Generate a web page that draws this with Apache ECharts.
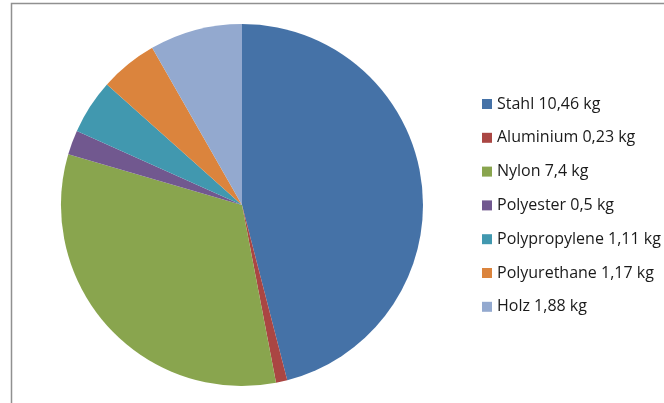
<!DOCTYPE html>
<html>
<head>
<meta charset="utf-8">
<script src="https://cdn.jsdelivr.net/npm/echarts@6/dist/echarts.min.js"></script>
<style>
html,body{margin:0;padding:0;background:#fff;}
#chart{width:664px;height:403px;}
</style>
</head>
<body>
<div id="chart"></div>
<script>
const categories = ["Stahl", "Aluminium", "Nylon", "Polyester", "Polypropylene", "Polyurethane", "Holz"];
const valueLabels = ["10,46", "0,23", "7,4", "0,5", "1,11", "1,17", "1,88"];
const values = [10.46, 0.23, 7.4, 0.5, 1.11, 1.17, 1.88];
const colors = ["#4572A7", "#AA4643", "#89A54E", "#71588F", "#4198AF", "#DB843D", "#93A9CF"];

const names = categories.map((c, i) => c + " " + valueLabels[i] + " kg");
const chart = echarts.init(document.getElementById('chart'));
chart.setOption({
  animation: false,
  color: colors,
  graphic: [{
    type: 'polyline',
    shape: { points: [[11.5, 403], [11.5, 3.5], [664, 3.5]] },
    style: { stroke: '#909090', lineWidth: 1.5, fill: null },
    silent: true
  }],
  legend: {
    orient: 'vertical',
    left: 482,
    top: 95,
    padding: 0,
    itemWidth: 10,
    itemHeight: 10,
    itemGap: 15.8,
    icon: 'rect',
    textStyle: { fontFamily: 'Open Sans', fontSize: 16, color: '#1a1a1a', lineHeight: 18 },
    data: names
  },
  series: [{
    type: 'pie',
    center: [242, 205],
    radius: 181,
    startAngle: 90,
    clockwise: true,
    label: { show: false },
    labelLine: { show: false },
    emphasis: { disabled: true },
    itemStyle: { borderWidth: 0 },
    data: names.map((n, i) => ({ name: n, value: values[i] }))
  }]
});
</script>
</body>
</html>
